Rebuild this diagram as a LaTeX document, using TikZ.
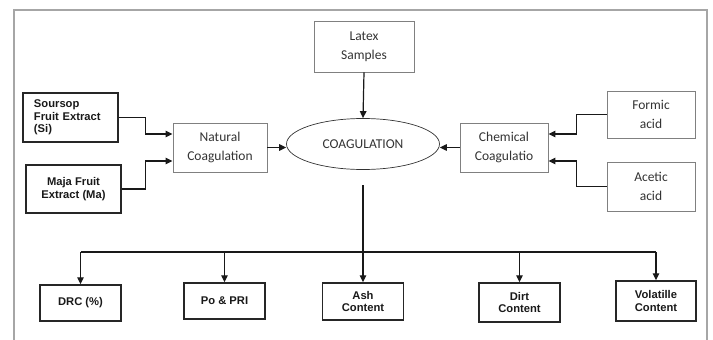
\documentclass[tikz,border=0pt]{standalone}
\usepackage{fontspec}
\setmainfont{Carlito}
\newfontfamily\arialfont{Liberation Sans}
\usetikzlibrary{arrows.meta,shapes.geometric}

\begin{document}
\begin{tikzpicture}[x=1pt, y=-1pt, >={Triangle[length=7pt,width=6.5pt]},
  softbox/.style={draw=black!50, line width=0.9pt, text=black!80, align=center, inner sep=0pt,
    font=\fontsize{13.5}{19}\selectfont},
  hardbox/.style={draw=black!85, line width=1.4pt, text=black!90, align=center, inner sep=0pt,
    font=\arialfont\bfseries\fontsize{11.2}{12.5}\selectfont},
  link/.style={line width=1.2pt, black!90}]
  \useasboundingbox (0,0) rectangle (713,340);
  \draw[gray!70, line width=1.2pt] (14,340) -- (14,10) -- (707,10) -- (707,340);

  % middle row
  \node[softbox, minimum width=100, minimum height=51] (latex) at (364,46.5) {Latex\\Samples};
  \node[ellipse, draw=black!80, line width=0.7pt, text=black!80, inner sep=0pt,
    minimum width=153, minimum height=51, font=\fontsize{13.5}{19}\selectfont] (coag) at (363,144) {COAGULATION};
  \node[softbox, minimum width=94, minimum height=49] (natural) at (220,147.5) {Natural\\Coagulation};
  \node[softbox, minimum width=88, minimum height=49] (chemical) at (504,147.5) {Chemical\\Coagulatio};
  \node[softbox, minimum width=88, minimum height=47] (formic) at (651,114.5) {Formic\\acid};
  \node[softbox, minimum width=88, minimum height=49] (acetic) at (651,186.5) {Acetic\\acid};
  \node[hardbox, align=left, text width=73, minimum width=95, minimum height=49] (soursop) at (70.5,117.5)
    {Soursop\\Fruit Extract\\(Si)};
  \node[hardbox, minimum width=95, minimum height=48] (maja) at (73.5,189) {Maja Fruit\\Extract (Ma)};

  % results
  \node[hardbox, minimum width=81, minimum height=36] (drc) at (80.5,303) {DRC (\%)};
  \node[hardbox, minimum width=81, minimum height=36] (popri) at (224.5,301) {Po \& PRI};
  \node[hardbox, minimum width=81, minimum height=37] (ash) at (363,301.5) {Ash\\Content};
  \node[hardbox, minimum width=81, minimum height=39] (dirt) at (519.5,302.5) {Dirt\\Content};
  \node[hardbox, minimum width=80, minimum height=40] (vol) at (656,301) {Volatille\\Content};

  \draw[link,->] (latex.south) -- (coag.north);
  \draw[link,->] (natural.east) -- (coag.west |- natural.east);
  \draw[link,->] (chemical.west) -- (coag.east |- chemical.west);
  \draw[link,->] (soursop.east) -- ++(27,0) |- ([yshift=13.5pt]natural.west);
  \draw[link,->] (maja.east) -- ++(24,0) |- ([yshift=-13.5pt]natural.west);
  \draw[link,->] (formic.west) -- ++(-30,0) |- ([yshift=13.5pt]chemical.east);
  \draw[link,->] (acetic.west) -- ++(-30,0) |- ([yshift=-13.5pt]chemical.east);

  \draw[link,->] ([yshift=-15.5pt]coag.south) -- (ash.north);
  \coordinate (bus) at (0,252);
  \draw[link] (drc.north |- bus) -- (vol.north |- bus);
  \foreach \b in {drc,popri,dirt,vol} \draw[link,->] (\b.north |- bus) -- (\b.north);
\end{tikzpicture}
\end{document}
